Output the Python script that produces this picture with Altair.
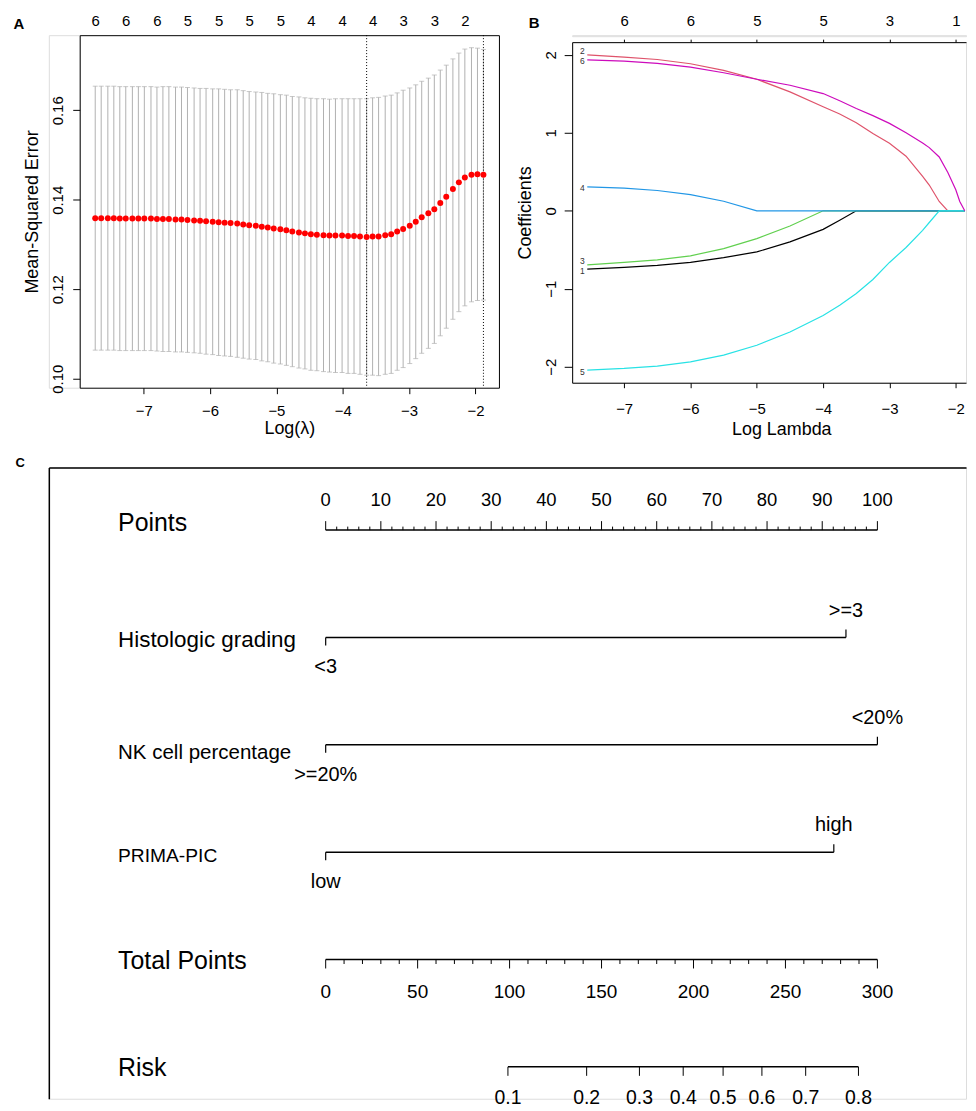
import altair as alt
import pandas as pd

FONT = "Liberation Sans"

# ---------------- Panel A: cross-validation curve ----------------
log_lambda = [-7.73, -7.64, -7.54, -7.45, -7.36, -7.27, -7.17, -7.08, -6.99, -6.89,
              -6.80, -6.71, -6.62, -6.52, -6.43, -6.34, -6.24, -6.15, -6.06, -5.96,
              -5.87, -5.78, -5.69, -5.59, -5.50, -5.41, -5.31, -5.22, -5.13, -5.04,
              -4.94, -4.85, -4.76, -4.66, -4.57, -4.48, -4.39, -4.29, -4.20, -4.11,
              -4.01, -3.92, -3.83, -3.74, -3.64, -3.55, -3.46, -3.36, -3.27, -3.18,
              -3.09, -2.99, -2.90, -2.81, -2.71, -2.62, -2.53, -2.44, -2.34, -2.25,
              -2.16, -2.06, -1.97, -1.88]
cvm = [0.1359, 0.1359, 0.1359, 0.1359, 0.1358, 0.1358, 0.1358, 0.1358, 0.1358, 0.1358,
       0.1357, 0.1357, 0.1357, 0.1356, 0.1356, 0.1355, 0.1354, 0.1353, 0.1352, 0.1351,
       0.1350, 0.1349, 0.1348, 0.1347, 0.1345, 0.1343, 0.1342, 0.1340, 0.1338, 0.1336,
       0.1334, 0.1332, 0.1329, 0.1327, 0.1325, 0.1323, 0.1322, 0.1321, 0.1320, 0.1320,
       0.1320, 0.1319, 0.1319, 0.1318, 0.1317, 0.1318, 0.1318, 0.1321, 0.1323, 0.1329,
       0.1335, 0.1342, 0.1351, 0.1361, 0.1370, 0.1379, 0.1393, 0.1407, 0.1424, 0.1439,
       0.1450, 0.1456, 0.1457, 0.1456]
cvsd = [0.0295, 0.0295, 0.0295, 0.0295, 0.0295, 0.0295, 0.0295, 0.0295, 0.0295, 0.0295,
        0.0295, 0.0296, 0.0296, 0.0296, 0.0296, 0.0296, 0.0296, 0.0296, 0.0297, 0.0297,
        0.0298, 0.0298, 0.0298, 0.0299, 0.0299, 0.0299, 0.0299, 0.0300, 0.0300, 0.0301,
        0.0301, 0.0302, 0.0302, 0.0303, 0.0303, 0.0304, 0.0304, 0.0305, 0.0305, 0.0306,
        0.0306, 0.0307, 0.0307, 0.0308, 0.0309, 0.0310, 0.0311, 0.0311, 0.0311, 0.0310,
        0.0310, 0.0308, 0.0306, 0.0304, 0.0302, 0.0300, 0.0297, 0.0294, 0.0291, 0.0289,
        0.0287, 0.0284, 0.0282, 0.0280]
nz_top_values = log_lambda[::5]
nz_top_labels = ["6", "6", "6", "5", "5", "5", "5", "4", "4", "4", "3", "3", "2"]
lambda_marks = [-3.64, -1.88]          # lambda.min, lambda.1se
a_xticks = [-7, -6, -5, -4, -3, -2]
a_yticks = [0.10, 0.12, 0.14, 0.16]

# ---------------- Panel B: coefficient paths ----------------
b_loglambda = [-7.556, -7.0, -6.5, -6.0, -5.5, -5.0, -4.5, -4.0, -3.75, -3.5,
               -3.25, -3.0, -2.75, -2.5, -2.4, -2.25, -2.12, -2.0, -1.94, -1.865]
coef_1 = [-0.747, -0.726, -0.700, -0.662, -0.600, -0.527, -0.399, -0.238, -0.120, 0.0,
          0.0, 0.0, 0.0, 0.0, 0.0, 0.0, 0.0, 0.0, 0.0, 0.0]
coef_2 = [2.000, 1.970, 1.940, 1.885, 1.800, 1.686, 1.524, 1.333, 1.240, 1.130,
          0.990, 0.866, 0.700, 0.440, 0.330, 0.120, 0.0, 0.0, 0.0, 0.0]
coef_3 = [-0.692, -0.662, -0.630, -0.577, -0.484, -0.357, -0.195, 0.0, 0.0, 0.0,
          0.0, 0.0, 0.0, 0.0, 0.0, 0.0, 0.0, 0.0, 0.0, 0.0]
coef_4 = [0.306, 0.290, 0.260, 0.208, 0.123, 0.0, 0.0, 0.0, 0.0, 0.0,
          0.0, 0.0, 0.0, 0.0, 0.0, 0.0, 0.0, 0.0, 0.0, 0.0]
coef_5 = [-2.042, -2.021, -1.990, -1.936, -1.850, -1.724, -1.554, -1.342, -1.210, -1.060,
          -0.880, -0.662, -0.470, -0.250, -0.150, 0.0, 0.0, 0.0, 0.0, 0.0]
coef_6 = [1.936, 1.920, 1.890, 1.843, 1.770, 1.686, 1.610, 1.503, 1.410, 1.312,
          1.220, 1.121, 1.000, 0.870, 0.810, 0.690, 0.490, 0.270, 0.120, 0.0]
b_vars = ["1", "2", "3", "4", "5", "6"]
b_colors = ["#000000", "#DF536B", "#61D04F", "#2297E6", "#28E2E5", "#CD0BBC"]
b_label_up = ["2", "3"]
b_top_values = [-7, -6, -5, -4, -3, -2]
b_top_labels = ["6", "6", "5", "5", "3", "1"]
b_xticks = [-7, -6, -5, -4, -3, -2]
b_yticks = [-2, -1, 0, 1, 2]

# ---------------- Panel C: nomogram ----------------
rows = ["Points", "Histologic grading", "NK cell percentage", "PRIMA-PIC",
        "Total Points", "Risk"]
points_major = list(range(0, 101, 10))
points_minor = [v for v in range(0, 101, 2) if v % 10]
hist_levels = ["<3", ">=3"]
hist_points = [0, 94.3]
nk_levels = [">=20%", "<20%"]
nk_points = [0, 100]
prima_levels = ["low", "high"]
prima_points = [0, 92.1]
total_major = list(range(0, 301, 50))
total_minor = [v for v in range(0, 301, 10) if v % 50]
risk_labels = ["0.1", "0.2", "0.3", "0.4", "0.5", "0.6", "0.7", "0.8"]
risk_total = [99.1, 141.9, 170.6, 194.4, 216.1, 237.2, 261.0, 289.7]


def spacer(w, h):
    return alt.Chart(pd.DataFrame({"s": [0]})).mark_point(opacity=0, size=1).encode(
        x=alt.X("s:Q", axis=None), y=alt.Y("s:Q", axis=None)).properties(width=w, height=h)


# =================== build panel A ===================
dfA = pd.DataFrame({"ll": log_lambda, "cvm": cvm, "cvsd": cvsd})
dfA_lines = pd.DataFrame({"ll": lambda_marks})

xA_scale = alt.Scale(domain=[-7.964, -1.646], nice=False, zero=False)
yA_scale = alt.Scale(domain=[0.098, 0.1768], nice=False, zero=False)
yA_axis = alt.Axis(title="Mean-Squared Error", values=a_yticks, format=".2f",
                   labelAngle=270, labelAlign="center", labelBaseline="alphabetic",
                   labelFontSize=15, labelPadding=10, tickSize=7, tickColor="black",
                   domain=False, grid=False, labelColor="black",
                   titleFontSize=18, titleFontWeight="normal", titleAngle=270,
                   titleBaseline="alphabetic", titleX=-42, titleY=177, titleColor="black")
xA_axis_bottom = alt.Axis(title="Log(λ)", values=a_xticks, format="d", labelFontSize=15,
                          labelPadding=10, tickSize=6, tickColor="black", domain=False,
                          grid=False, labelColor="black", titleFontSize=18,
                          titleFontWeight="normal", titleBaseline="alphabetic",
                          titleX=210.5, titleY=46, titleColor="black")
a_label_expr = "[" + ",".join("'%s'" % s for s in nz_top_labels) + "][indexof([" + \
    ",".join(repr(v) for v in nz_top_values) + "], datum.value)]"
xA_axis_top = alt.Axis(orient="top", title="A", values=nz_top_values, labelExpr=a_label_expr,
                       ticks=False, domain=False, grid=False, labelFontSize=15,
                       labelPadding=7, labelColor="black", titleFontSize=15,
                       titleFontWeight="bold", titleAlign="left", titleBaseline="middle",
                       titleAngle=0, titleX=-67, titleY=-12, titleColor="black")

baseA = alt.Chart(dfA).transform_calculate(lo="datum.cvm - datum.cvsd",
                                            hi="datum.cvm + datum.cvsd")
a_bars = baseA.mark_rule(color="#b0b0b0", strokeWidth=1).encode(
    x=alt.X("ll:Q", scale=xA_scale, axis=xA_axis_bottom),
    y=alt.Y("lo:Q", scale=yA_scale, axis=yA_axis),
    y2="hi:Q")
a_cap_hi = baseA.mark_tick(color="#b0b0b0", orient="horizontal", size=5, thickness=1).encode(
    x=alt.X("ll:Q", scale=xA_scale, axis=None),
    y=alt.Y("hi:Q", scale=yA_scale, axis=yA_axis))
a_cap_lo = baseA.mark_tick(color="#b0b0b0", orient="horizontal", size=5, thickness=1).encode(
    x=alt.X("ll:Q", scale=xA_scale, axis=None),
    y=alt.Y("lo:Q", scale=yA_scale, axis=yA_axis))
a_vlines = alt.Chart(dfA_lines).mark_rule(color="black", strokeDash=[1, 2], strokeWidth=1).encode(
    x=alt.X("ll:Q", scale=xA_scale, axis=None))
a_dots = alt.Chart(dfA).mark_circle(color="#ff0000", size=36, opacity=1).encode(
    x=alt.X("ll:Q", scale=xA_scale, axis=xA_axis_top),
    y=alt.Y("cvm:Q", scale=yA_scale, axis=yA_axis))

A = alt.layer(a_bars, a_cap_hi, a_cap_lo, a_vlines, a_dots).resolve_axis(x="independent").properties(
    width=421, height=354, view=alt.ViewBackground(stroke="black", strokeWidth=1))

# =================== build panel B ===================
coef_lists = [coef_1, coef_2, coef_3, coef_4, coef_5, coef_6]
recs = []
for v, c in zip(b_vars, coef_lists):
    for x, y in zip(b_loglambda, c):
        recs.append({"var": v, "ll": x, "coef": y})
dfB = pd.DataFrame(recs)
dfB_lab = pd.DataFrame({"var": b_vars, "ll": [b_loglambda[0]] * 6,
                        "coef": [c[0] for c in coef_lists],
                        "up": [v in b_label_up for v in b_vars]})

xB_scale = alt.Scale(domain=[-7.784, -1.846], nice=False, zero=False)
yB_scale = alt.Scale(domain=[-2.204, 2.162], nice=False, zero=False)
yB_axis = alt.Axis(title="Coefficients", values=b_yticks, format="d", labelAngle=270,
                   labelAlign="center", labelBaseline="alphabetic", labelFontSize=15,
                   labelPadding=9, tickSize=8, tickColor="black", domain=True,
                   domainColor="black", grid=False, labelColor="black",
                   titleFontSize=18, titleFontWeight="normal", titleAngle=270,
                   titleBaseline="alphabetic", titleX=-42, titleY=171, titleColor="black")
xB_axis_bottom = alt.Axis(title="Log Lambda", values=b_xticks, format="d", labelFontSize=15,
                          labelPadding=14, tickSize=5, tickColor="black", domain=True,
                          domainColor="black", grid=False, labelColor="black",
                          titleFontSize=18, titleFontWeight="normal",
                          titleBaseline="alphabetic", titleX=210, titleY=52,
                          titleColor="black")
b_label_expr = "[" + ",".join("'%s'" % s for s in b_top_labels) + "][indexof([" + \
    ",".join(repr(v) for v in b_top_values) + "], datum.value)]"
xB_axis_top = alt.Axis(orient="top", title="B", values=b_top_values, labelExpr=b_label_expr,
                       tickSize=3, tickColor="black", domain=True, domainColor="black",
                       grid=False, labelFontSize=15, labelPadding=11, labelColor="black",
                       titleFontSize=15, titleFontWeight="bold", titleAlign="left",
                       titleBaseline="middle", titleAngle=0, titleX=-44, titleY=-20,
                       titleColor="black")

b_lines = alt.Chart(dfB).mark_line(strokeWidth=1.2).encode(
    x=alt.X("ll:Q", scale=xB_scale, axis=xB_axis_bottom),
    y=alt.Y("coef:Q", scale=yB_scale, axis=yB_axis),
    color=alt.Color("var:N", scale=alt.Scale(domain=b_vars, range=b_colors), legend=None),
    order="ll:Q")
b_text_up = alt.Chart(dfB_lab).transform_filter("datum.up").mark_text(
    fontSize=8.5, dx=-5, dy=-3.5, align="center", baseline="middle", color="#333333").encode(
    x=alt.X("ll:Q", scale=xB_scale, axis=xB_axis_top),
    y=alt.Y("coef:Q", scale=yB_scale, axis=yB_axis),
    text="var:N")
b_text_dn = alt.Chart(dfB_lab).transform_filter("!datum.up").mark_text(
    fontSize=8.5, dx=-5, dy=1.5, align="center", baseline="middle", color="#333333").encode(
    x=alt.X("ll:Q", scale=xB_scale, axis=None),
    y=alt.Y("coef:Q", scale=yB_scale, axis=yB_axis),
    text="var:N")

B = alt.layer(b_lines, b_text_up, b_text_dn).resolve_axis(x="independent").properties(
    width=395.5, height=342)

# =================== build panel C ===================
xP_scale = alt.Scale(domain=[-50.18, 116.06], nice=False, zero=False)
xT_scale = alt.Scale(domain=[-150.54, 348.18], nice=False, zero=False)
yC_scale = alt.Scale(type="point", domain=rows, padding=0.4406, align=0.663)
row_size = ("datum.value == 'Histologic grading' ? 22.5 : "
            "datum.value == 'NK cell percentage' ? 20.6 : "
            "datum.value == 'PRIMA-PIC' ? 19.3 : 25")
yC_axis = alt.Axis(title=None, ticks=False, domain=True, domainColor="black", domainWidth=1.5,
                   grid=False, labelAlign="left", labelBaseline="alphabetic",
                   labelPadding=-69, labelLimit=400, labelColor="black",
                   labelFontSize={"condition": [
                       {"test": "datum.value == 'Histologic grading'", "value": 22.5},
                       {"test": "datum.value == 'NK cell percentage'", "value": 20.6},
                       {"test": "datum.value == 'PRIMA-PIC'", "value": 19.3}],
                       "value": 25},
                   labelOffset={"condition": [{"test": "datum.value == 'Points'", "value": 0},
                                              {"test": "datum.value == 'NK cell percentage'", "value": 14}],
                                "value": 9})
xC_axis_top = alt.Axis(orient="top", title="C", labels=False, ticks=False, domain=True,
                       domainColor="black", domainWidth=1.5, grid=False,
                       titleFontSize=13, titleFontWeight="bold", titleAlign="left",
                       titleBaseline="middle", titleAngle=0, titleX=-34, titleY=-5,
                       titleColor="black")
yC = alt.Y("row:N", scale=yC_scale, axis=yC_axis)
y2C = alt.Y2("row:N")

seg_rows = ["Points", "Histologic grading", "NK cell percentage", "PRIMA-PIC"]
seg_start = [0, hist_points[0], nk_points[0], prima_points[0]]
seg_end = [100, hist_points[1], nk_points[1], prima_points[1]]
df_seg = pd.DataFrame({"row": seg_rows, "x0": seg_start, "x1": seg_end})
df_pmaj = pd.DataFrame({"row": "Points", "v": points_major,
                        "lab": [str(v) for v in points_major]})
df_pmin = pd.DataFrame({"row": "Points", "v": points_minor})
lev_rows = ["Histologic grading"] * 2 + ["NK cell percentage"] * 2 + ["PRIMA-PIC"] * 2
lev_pos = hist_points + nk_points + prima_points
lev_lab = hist_levels + nk_levels + prima_levels
lev_side = ["low", "high"] * 3
df_lev = pd.DataFrame({"row": lev_rows, "v": lev_pos, "lab": lev_lab, "side": lev_side})
df_tseg = pd.DataFrame({"row": ["Total Points", "Risk"], "x0": [0, risk_total[0]],
                        "x1": [300, risk_total[-1]]})
df_tmaj = pd.DataFrame({"row": "Total Points", "v": total_major,
                        "lab": [str(v) for v in total_major]})
df_tmin = pd.DataFrame({"row": "Total Points", "v": total_minor})
df_risk = pd.DataFrame({"row": "Risk", "v": risk_total, "lab": risk_labels})

c_seg = alt.Chart(df_seg).mark_rule(color="black", strokeWidth=1.5).encode(
    x=alt.X("x0:Q", scale=xP_scale, axis=xC_axis_top), x2="x1:Q", y=yC)
c_pmaj = alt.Chart(df_pmaj).mark_rule(color="black", strokeWidth=1, y2Offset=-9).encode(
    x=alt.X("v:Q", scale=xP_scale, axis=None), y=yC, y2=y2C)
c_pmin = alt.Chart(df_pmin).mark_rule(color="black", strokeWidth=1, y2Offset=-3.5).encode(
    x=alt.X("v:Q", scale=xP_scale, axis=None), y=yC, y2=y2C)
c_plab = alt.Chart(df_pmaj).mark_text(fontSize=18.5, dy=-24, baseline="alphabetic",
                                      align="center", color="black").encode(
    x=alt.X("v:Q", scale=xP_scale, axis=None), y=yC, text="lab:N")
c_lev_lo = alt.Chart(df_lev).transform_filter("datum.side == 'low'").mark_rule(
    color="black", strokeWidth=1.2, y2Offset=8).encode(
    x=alt.X("v:Q", scale=xP_scale, axis=None), y=yC, y2=y2C)
c_lev_hi = alt.Chart(df_lev).transform_filter("datum.side == 'high'").mark_rule(
    color="black", strokeWidth=1.2, y2Offset=-8).encode(
    x=alt.X("v:Q", scale=xP_scale, axis=None), y=yC, y2=y2C)
c_lab_lo = alt.Chart(df_lev).transform_filter("datum.side == 'low'").mark_text(
    fontSize=20, dy=36, baseline="alphabetic", align="center", color="black").encode(
    x=alt.X("v:Q", scale=xP_scale, axis=None), y=yC, text="lab:N")
c_lab_hi = alt.Chart(df_lev).transform_filter("datum.side == 'high'").mark_text(
    fontSize=20, dy=-21, baseline="alphabetic", align="center", color="black").encode(
    x=alt.X("v:Q", scale=xP_scale, axis=None), y=yC, text="lab:N")
c_tseg = alt.Chart(df_tseg).mark_rule(color="black", strokeWidth=1.5).encode(
    x=alt.X("x0:Q", scale=xT_scale, axis=None), x2="x1:Q", y=yC)
c_tmaj = alt.Chart(df_tmaj).mark_rule(color="black", strokeWidth=1, y2Offset=9).encode(
    x=alt.X("v:Q", scale=xT_scale, axis=None), y=yC, y2=y2C)
c_tmin = alt.Chart(df_tmin).mark_rule(color="black", strokeWidth=1, y2Offset=4.5).encode(
    x=alt.X("v:Q", scale=xT_scale, axis=None), y=yC, y2=y2C)
c_tlab = alt.Chart(df_tmaj).mark_text(fontSize=19, dy=39, baseline="alphabetic",
                                      align="center", color="black").encode(
    x=alt.X("v:Q", scale=xT_scale, axis=None), y=yC, text="lab:N")
c_rtick = alt.Chart(df_risk).mark_rule(color="black", strokeWidth=1, y2Offset=9).encode(
    x=alt.X("v:Q", scale=xT_scale, axis=None), y=yC, y2=y2C)
c_rlab = alt.Chart(df_risk).mark_text(fontSize=19.5, dy=37, baseline="alphabetic",
                                      align="center", color="black").encode(
    x=alt.X("v:Q", scale=xT_scale, axis=None), y=yC, text="lab:N")

C = alt.layer(c_seg, c_pmaj, c_pmin, c_plab, c_lev_lo, c_lev_hi, c_lab_lo, c_lab_hi,
              c_tseg, c_tmaj, c_tmin, c_tlab, c_rtick, c_rlab).resolve_scale(
    x="independent").properties(width=921, height=634)

# =================== layout (flush bounds so that views are placed exactly) ===================
# nested flush groups count as zero-height, so the vertical gap is the full offset of panel C
B_group = alt.vconcat(spacer(395.5, 1), B, spacing=6, bounds="flush")
AB = alt.hconcat(A, B_group, spacing=73.5, bounds="flush")
top_row = alt.hconcat(spacer(31, 354), AB, spacing=0, bounds="flush")
chart = alt.vconcat(top_row, C, spacing=434, bounds="flush").properties(
    padding={"left": 4, "top": 2, "right": 0, "bottom": 0})
chart = chart.configure_view(stroke=None).configure(font=FONT).configure_axis(
    labelFont=FONT, titleFont=FONT)

chart.save("out.html", embed_options={"renderer": "svg", "actions": False})
